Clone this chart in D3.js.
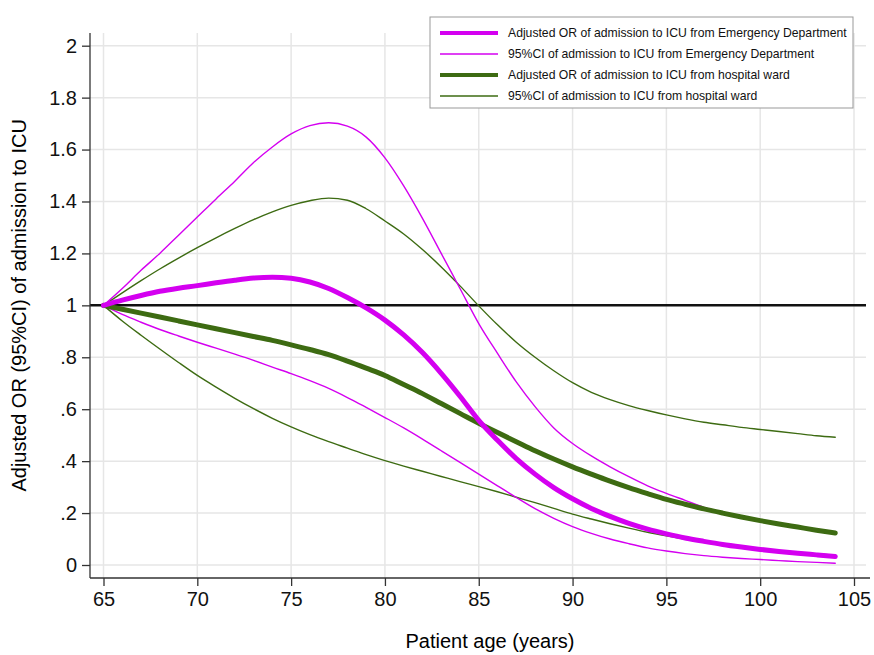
<!DOCTYPE html>
<html>
<head>
<meta charset="utf-8">
<script src="https://cdn.jsdelivr.net/npm/d3@7"></script>
<style>
  body { margin: 0; background: #fff; }
  svg { font-family: "Liberation Sans", Arial, sans-serif; }
  .grid line { stroke: #e6e6e6; stroke-width: 1.5; }
  .axis path, .axis line { stroke: #333; stroke-width: 1.3; }
  .axis text { font-size: 20px; fill: #111; }
  .line { fill: none; stroke-linejoin: round; stroke-linecap: round; }
</style>
</head>
<body>
<div id="chart"></div>
<script>
const margin = { top: 33, right: 4, bottom: 77, left: 90 };
const width = 874 - margin.left - margin.right;
const height = 655 - margin.top - margin.bottom;

// patient age
var ages = [65, 66, 67, 68, 69, 70, 71, 72, 73, 74, 75, 76, 77, 78, 79, 80, 81, 82, 83, 84,
            85, 86, 87, 88, 89, 90, 91, 92, 93, 94, 95, 96, 97, 98, 99, 100, 101, 102, 103, 104];

var edOR = [1.0, 1.02, 1.038, 1.054, 1.066, 1.076, 1.087, 1.097, 1.105, 1.108, 1.104, 1.09, 1.065, 1.03, 0.99, 0.943, 0.886, 0.818, 0.738, 0.65,
            0.557, 0.48, 0.41, 0.35, 0.298, 0.255, 0.218, 0.187, 0.16, 0.138, 0.12, 0.104, 0.091, 0.079, 0.069, 0.06, 0.052, 0.045, 0.039, 0.033];
var edLow = [1.0, 0.965, 0.935, 0.907, 0.882, 0.858, 0.835, 0.812, 0.788, 0.762, 0.737, 0.71, 0.68, 0.645, 0.607, 0.568, 0.528, 0.485, 0.44, 0.395,
             0.35, 0.305, 0.26, 0.217, 0.18, 0.148, 0.122, 0.1, 0.082, 0.066, 0.054, 0.044, 0.036, 0.03, 0.025, 0.021, 0.017, 0.013, 0.01, 0.007];
var edHigh = [1.0, 1.065, 1.135, 1.2, 1.27, 1.34, 1.41, 1.478, 1.55, 1.61, 1.66, 1.692, 1.703, 1.69, 1.648, 1.568, 1.46, 1.335, 1.2, 1.065,
              0.93, 0.815, 0.705, 0.61, 0.528, 0.468, 0.42, 0.378, 0.34, 0.305, 0.276, 0.249, 0.222, 0.203, 0.186, 0.17, 0.157, 0.145, 0.133, 0.122];

var wardOR = [1.0, 0.985, 0.97, 0.955, 0.94, 0.925, 0.91, 0.895, 0.88, 0.865, 0.848, 0.83, 0.81, 0.785, 0.758, 0.73, 0.695, 0.66, 0.622, 0.584,
              0.546, 0.51, 0.475, 0.44, 0.408, 0.378, 0.35, 0.323, 0.298, 0.275, 0.253, 0.234, 0.216, 0.2, 0.185, 0.171, 0.158, 0.146, 0.134, 0.123];
var wardLow = [1.0, 0.94, 0.885, 0.832, 0.78, 0.73, 0.685, 0.642, 0.602, 0.565, 0.532, 0.502, 0.475, 0.45, 0.425, 0.402, 0.381, 0.361, 0.341, 0.321,
               0.302, 0.282, 0.261, 0.24, 0.218, 0.196, 0.177, 0.159, 0.142, 0.126, 0.112, 0.099, 0.088, 0.078, 0.069, 0.061, 0.054, 0.048, 0.043, 0.038];
var wardHigh = [1.0, 1.048, 1.095, 1.14, 1.182, 1.222, 1.26, 1.296, 1.33, 1.36, 1.385, 1.403, 1.413, 1.405, 1.372, 1.325, 1.275, 1.215, 1.148, 1.075,
                0.998, 0.925, 0.858, 0.8, 0.748, 0.702, 0.665, 0.637, 0.614, 0.595, 0.578, 0.563, 0.55, 0.54, 0.53, 0.522, 0.514, 0.506, 0.498, 0.492];

var xTicks = [65, 70, 75, 80, 85, 90, 95, 100, 105];
var yTicks = [0, 0.2, 0.4, 0.6, 0.8, 1, 1.2, 1.4, 1.6, 1.8, 2];
var yTickLabels = ["0", ".2", ".4", ".6", ".8", "1", "1.2", "1.4", "1.6", "1.8", "2"];

var magenta = "#d400f0";
var green = "#3d6b12";

// drawing order: ward CI, ED CI, ward OR, ED OR (legend order below)
var series = [
    { name: "95%CI of admission to ICU from hospital ward", values: wardLow, color: green, w: 1.4 },
    { name: "", values: wardHigh, color: green, w: 1.4 },
    { name: "95%CI of admission to ICU from Emergency Department", values: edLow, color: magenta, w: 1.4 },
    { name: "", values: edHigh, color: magenta, w: 1.4 },
    { name: "Adjusted OR of admission to ICU from hospital ward", values: wardOR, color: green, w: 5 },
    { name: "Adjusted OR of admission to ICU from Emergency Department", values: edOR, color: magenta, w: 5 }
];
var legendItems = [series[5], series[2], series[4], series[0]];

var x = d3.scaleLinear().domain([65, 105]).range([13.5, 764]);
var y = d3.scaleLinear().domain([0, 2]).range([532, 12.7]);

var svg = d3.select("#chart")
    .append("svg")
    .attr("width", width + margin.left + margin.right)
    .attr("height", height + margin.top + margin.bottom)
    .append("g")
        .attr("transform", "translate(" + margin.left + "," + margin.top + ")");

// grid
var grid = svg.append("g").attr("class", "grid");
grid.selectAll(".hg").data(yTicks).enter().append("line")
    .attr("x1", 0).attr("x2", width - 4)
    .attr("y1", function(d) { return y(d); }).attr("y2", function(d) { return y(d); });
grid.selectAll(".vg").data(xTicks).enter().append("line")
    .attr("y1", 0).attr("y2", height)
    .attr("x1", function(d) { return x(d); }).attr("x2", function(d) { return x(d); });

// reference line at OR = 1
svg.append("line")
    .attr("x1", 0).attr("x2", width - 4)
    .attr("y1", y(1)).attr("y2", y(1))
    .style("stroke", "#111").style("stroke-width", 2.5);

var line = d3.line()
    .x(function(d, i) { return x(ages[i]); })
    .y(function(d) { return y(d); })
    .curve(d3.curveMonotoneX);

svg.selectAll(".line")
    .data(series)
    .enter().append("path")
        .attr("class", "line")
        .attr("d", function(s) { return line(s.values); })
        .style("stroke", function(s) { return s.color; })
        .style("stroke-width", function(s) { return s.w; });

// axes
var xAxis = d3.axisBottom(x).tickValues(xTicks).tickSize(8).tickPadding(6).tickSizeOuter(0);
var yAxis = d3.axisLeft(y).tickValues(yTicks).tickSize(8).tickPadding(5).tickSizeOuter(0)
    .tickFormat(function(d, i) { return yTickLabels[i]; });

var gx = svg.append("g")
    .attr("class", "axis")
    .attr("transform", "translate(0," + height + ")")
    .call(xAxis);
gx.select(".domain").attr("d", "M0,0H" + width);

var gy = svg.append("g")
    .attr("class", "axis")
    .call(yAxis);
gy.select(".domain").attr("d", "M0,0V" + height);

svg.append("text")
    .attr("x", 400)
    .attr("y", height + 70)
    .attr("text-anchor", "middle")
    .style("font-size", "20px")
    .text("Patient age (years)");

svg.append("text")
    .attr("transform", "translate(" + (-64) + "," + y(1) + ") rotate(-90)")
    .attr("text-anchor", "middle")
    .style("font-size", "20px")
    .text("Adjusted OR (95%CI) of admission to ICU");

// legend
var legend = svg.append("g").attr("transform", "translate(" + (430 - margin.left) + "," + (17 - margin.top) + ")");
legend.append("rect")
    .attr("width", 423).attr("height", 91)
    .style("fill", "#fff").style("stroke", "#999").style("stroke-width", 1);

var rows = legend.selectAll(".row").data(legendItems).enter().append("g")
    .attr("transform", function(d, i) { return "translate(0," + (16 + i * 21) + ")"; });
rows.append("line")
    .attr("x1", 10).attr("x2", 68)
    .style("stroke", function(d) { return d.color; })
    .style("stroke-width", function(d) { return d.w === 5 ? 4 : 1.4; });
rows.append("text")
    .attr("x", 78).attr("dy", "0.35em")
    .style("font-size", "12.2px")
    .style("fill", "#111")
    .text(function(d) { return d.name; });
</script>
</body>
</html>
